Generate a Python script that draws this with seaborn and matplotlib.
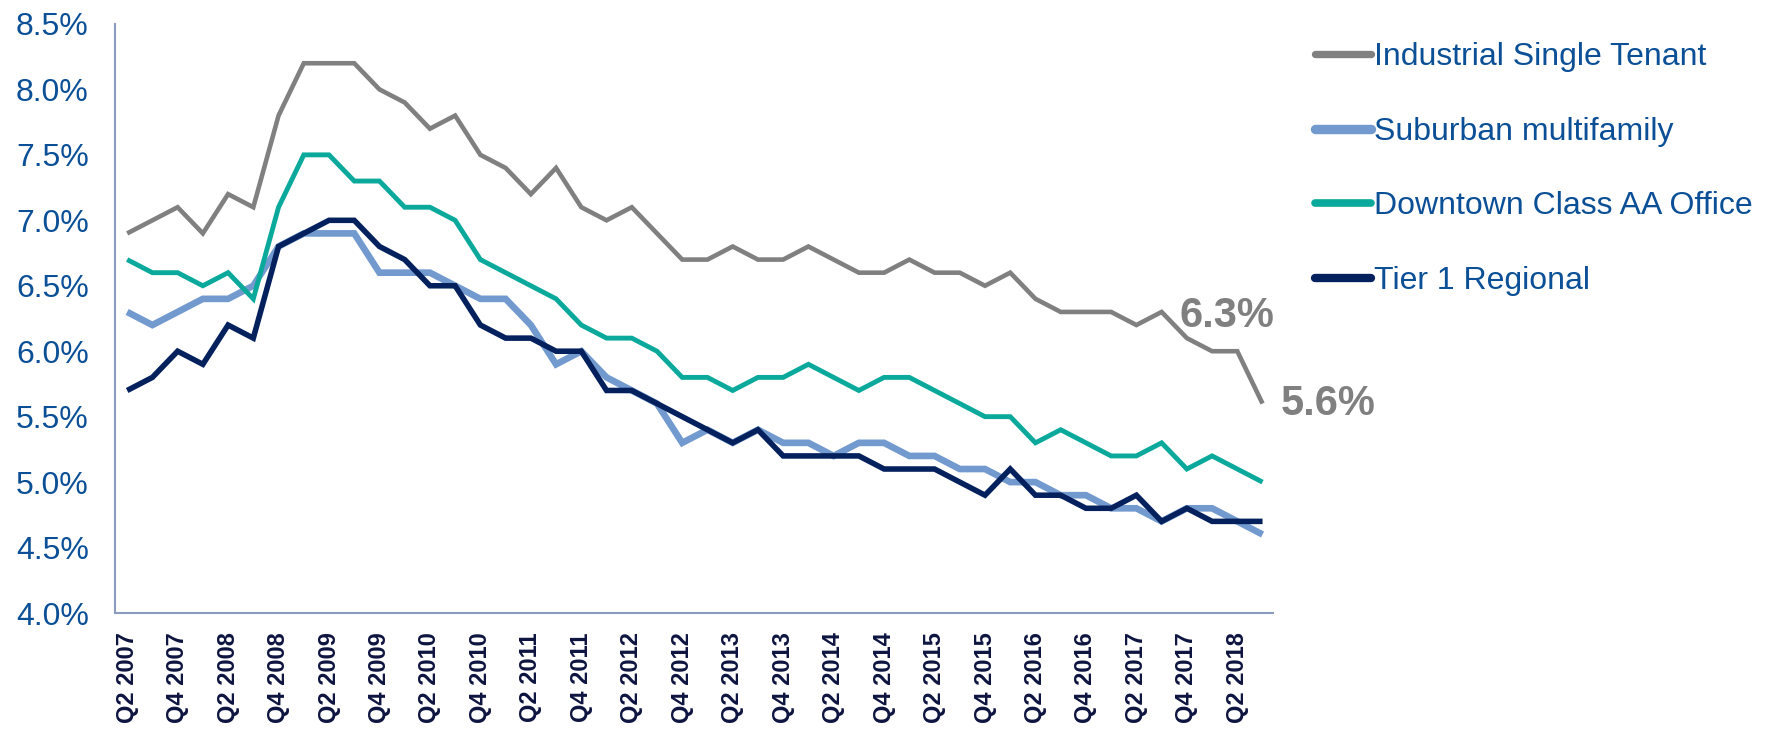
import pandas as pd
import seaborn as sns
import matplotlib.pyplot as plt

# data (cap rates, %), quarterly from Q2 2007 to Q3 2018
industrial = [6.9, 7.0, 7.1, 6.9, 7.2, 7.1, 7.8, 8.2, 8.2, 8.2,
              8.0, 7.9, 7.7, 7.8, 7.5, 7.4, 7.2, 7.4, 7.1, 7.0,
              7.1, 6.9, 6.7, 6.7, 6.8, 6.7, 6.7, 6.8, 6.7, 6.6,
              6.6, 6.7, 6.6, 6.6, 6.5, 6.6, 6.4, 6.3, 6.3, 6.3,
              6.2, 6.3, 6.1, 6.0, 6.0, 5.6]
suburban = [6.3, 6.2, 6.3, 6.4, 6.4, 6.5, 6.8, 6.9, 6.9, 6.9,
            6.6, 6.6, 6.6, 6.5, 6.4, 6.4, 6.2, 5.9, 6.0, 5.8,
            5.7, 5.6, 5.3, 5.4, 5.3, 5.4, 5.3, 5.3, 5.2, 5.3,
            5.3, 5.2, 5.2, 5.1, 5.1, 5.0, 5.0, 4.9, 4.9, 4.8,
            4.8, 4.7, 4.8, 4.8, 4.7, 4.6]
office = [6.7, 6.6, 6.6, 6.5, 6.6, 6.4, 7.1, 7.5, 7.5, 7.3,
          7.3, 7.1, 7.1, 7.0, 6.7, 6.6, 6.5, 6.4, 6.2, 6.1,
          6.1, 6.0, 5.8, 5.8, 5.7, 5.8, 5.8, 5.9, 5.8, 5.7,
          5.8, 5.8, 5.7, 5.6, 5.5, 5.5, 5.3, 5.4, 5.3, 5.2,
          5.2, 5.3, 5.1, 5.2, 5.1, 5.0]
tier1 = [5.7, 5.8, 6.0, 5.9, 6.2, 6.1, 6.8, 6.9, 7.0, 7.0,
         6.8, 6.7, 6.5, 6.5, 6.2, 6.1, 6.1, 6.0, 6.0, 5.7,
         5.7, 5.6, 5.5, 5.4, 5.3, 5.4, 5.2, 5.2, 5.2, 5.2,
         5.1, 5.1, 5.1, 5.0, 4.9, 5.1, 4.9, 4.9, 4.8, 4.8,
         4.9, 4.7, 4.8, 4.7, 4.7, 4.7]

tick_labels = ['Q2 2007', 'Q4 2007', 'Q2 2008', 'Q4 2008', 'Q2 2009', 'Q4 2009',
               'Q2 2010', 'Q4 2010', 'Q2 2011', 'Q4 2011', 'Q2 2012', 'Q4 2012',
               'Q2 2013', 'Q4 2013', 'Q2 2014', 'Q4 2014', 'Q2 2015', 'Q4 2015',
               'Q2 2016', 'Q4 2016', 'Q2 2017', 'Q4 2017', 'Q2 2018']
yticks = [4.0, 4.5, 5.0, 5.5, 6.0, 6.5, 7.0, 7.5, 8.0, 8.5]

names = ['Industrial Single Tenant', 'Suburban multifamily',
         'Downtown Class AA Office', 'Tier 1 Regional']
colors = ['#808080', '#729ACF', '#0AA99B', '#04215E']
widths = [3.3, 4.8, 3.5, 4.0]

TEXT_BLUE = '#0B4F96'

sns.set_theme(style="white")
plt.rcParams['font.family'] = ['Liberation Sans', 'DejaVu Sans']

fig = plt.figure(figsize=(17.7, 7.33), dpi=100)
ax = fig.add_axes([0.065, 0.1637, 0.654, 0.8036])

n = len(industrial)
df = pd.DataFrame({'q': list(range(n)) * 4,
                   'rate': industrial + suburban + office + tier1,
                   'series': [s for s in names for _ in range(n)]})

for name, c, w in zip(names, colors, widths):
    sns.lineplot(data=df[df.series == name], x='q', y='rate', color=c,
                 linewidth=w, label=name, ax=ax, solid_joinstyle='miter',
                 solid_capstyle='butt')

ax.set_xlim(-0.48, 45.4)
ax.set_ylim(4.0, 8.5)
ax.set_xticks(list(range(0, n, 2))[:len(tick_labels)])
ax.set_xticklabels(tick_labels, rotation=90, fontsize=17, fontweight='bold',
                   color='#0E1440')
ax.set_yticks(yticks)
ax.set_yticklabels(['%.1f%%' % v for v in yticks], fontsize=23, color=TEXT_BLUE)
ax.tick_params(axis='x', length=0, pad=14)
ax.tick_params(axis='y', length=0, pad=19)
ax.set_xlabel('')
ax.set_ylabel('')
for side in ['top', 'right']:
    ax.spines[side].set_visible(False)
for side in ['left', 'bottom']:
    ax.spines[side].set_color('#8C9CBF')
    ax.spines[side].set_linewidth(1.5)
ax.grid(False)

# end labels
ax.text(43.6, 6.27, '6.3%', fontsize=30, fontweight='bold', color='#808080',
        ha='center', va='center', clip_on=False)
ax.text(47.6, 5.6, '5.6%', fontsize=30, fontweight='bold', color='#808080',
        ha='center', va='center', clip_on=False)

leg = ax.legend(loc='upper left', bbox_to_anchor=(1315 / 1770, 1 - 42 / 733),
                bbox_transform=fig.transFigure, frameon=False, fontsize=23,
                handlelength=1.75, handletextpad=0.1, labelspacing=1.4,
                borderpad=0, borderaxespad=0)
for t in leg.get_texts():
    t.set_color(TEXT_BLUE)
for h, w in zip(leg.get_lines(), widths):
    h.set_linewidth(w + 2)
    h.set_solid_capstyle('round')

fig.savefig('out.png', dpi=100)
